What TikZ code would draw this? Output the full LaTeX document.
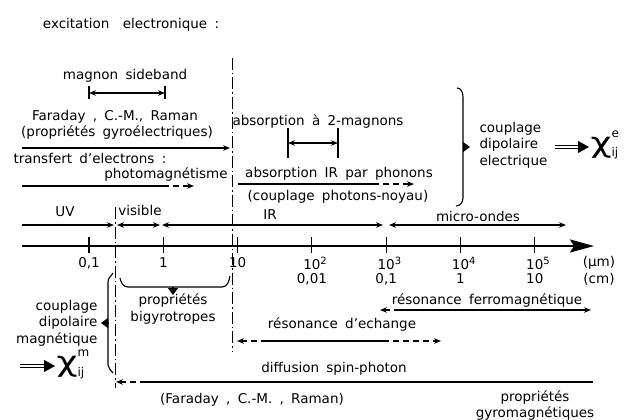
\documentclass[tikz,border=0pt]{standalone}
\usepackage{fontspec}
\setmainfont{DejaVu Sans}[WordSpace=1.7]
\usepackage{tikz}
\usetikzlibrary{arrows.meta,positioning}
\newcommand{\chisus}[1]{\scalebox{1.3}[1]{\fontsize{28}{28}\selectfont χ}\makebox[0pt][l]{\raisebox{15pt}{\fontsize{12}{12}\selectfont #1}}\raisebox{-5pt}{\fontsize{12}{12}\selectfont ij}}

\begin{document}
\begin{tikzpicture}[x=1pt,y=-1pt,>={Stealth[length=7pt,width=5.5pt]},line width=1.1pt,
  every node/.style={font=\fontsize{13.5}{16.5}\selectfont,inner sep=1pt}]
\tikzstyle{dashdot}=[line width=0.9pt,dash pattern=on 12pt off 3pt on 1.5pt off 3pt]
\tikzstyle{dsh}=[dash pattern=on 6pt off 4pt]
\tikzstyle{axe}=[line width=2pt,-{Stealth[length=24pt,width=13pt,inset=4pt]}]
\tikzstyle{dbl}=[line width=1pt,double,double distance=2.4pt,-{Triangle[length=11pt,width=12pt]}]
\tikzstyle{pointer}=[-{Triangle[length=7pt,width=10pt]}]
\useasboundingbox (0,0) rectangle (627,420);

\node (exc) at (131,25) {excitation\quad electronique :};

\node (msb) at (125,76) {magnon sideband};
\coordinate (ms1) at (89,93);
\coordinate (ms2) at (165,93);
\draw (ms1) ++(0,-7) -- ++(0,13) (ms2) ++(0,-7) -- ++(0,13);
\path (ms1) edge[<->] (ms2);

\node (far) at (115,117) {Faraday , C.-M., Raman};
\node (gyro) at (117,133) {(propriétés gyroélectriques)};
\coordinate (f0) at (22,148);
\coordinate (f1) at (230,148);
\path (f0) edge[->] (f1);

\node[anchor=west] (trf) at (12,158) {transfert d’electrons :};
\node (pm) at (166,175) {photomagnétisme};
\coordinate (p0) at (22,186);
\coordinate (p1) at (163,186);
\coordinate (p2) at (194,186);
\path (p0) edge (p1)
      (p1) edge[->,dsh] (p2);

\node (a2m) at (318,122) {absorption à 2-magnons};
\coordinate (am1) at (288,143);
\coordinate (am2) at (338,143);
\draw (am1) ++(0,-15) -- ++(0,30) (am2) ++(0,-15) -- ++(0,30);
\path (am1) edge[<->] (am2);

\node (phn) at (339,174) {absorption IR par phonons};
\node (cpn) at (338,197) {(couplage photons-noyau)};
\coordinate (h0) at (238,184);
\coordinate (h1) at (373,184);
\coordinate (h2) at (414,184);
\path (h0) edge (h1)
      (h1) edge[->,dsh] (h2);

\draw (457,88) to[out=0,in=90] (463,97) -- (463,198) to[out=-90,in=0] (456,206);
\draw[pointer] (463,147) -- (470,147);
\node[align=left,anchor=west] (cde) at (478,145) {couplage\\dipolaire\\electrique};
\coordinate (e0) at (555,147);
\coordinate (e1) at (589,147);
\path (e0) edge[dbl] (e1);
\node[anchor=base west,inner sep=0pt] (chie) at (590,152) {\chisus{e}};

\coordinate (d1) at (232,58);
\coordinate (d2) at (232,352);
\coordinate (v1) at (115,207);
\coordinate (v2) at (115,388);
\draw[dashdot] (d1) -- (d2);
\draw[dashdot] (v1) -- (v2);

\node (uv) at (65,212) {UV};
\node (vis) at (140,210) {visible};
\node (ir) at (270,215) {IR};
\node (mo) at (478,216) {micro-ondes};
\coordinate (b0) at (22,225);
\coordinate (b1) at (114,225);
\coordinate (b2) at (117,225);
\coordinate (b3) at (160,225);
\coordinate (b4) at (162,225);
\coordinate (b5) at (383,225);
\coordinate (b6) at (389,225);
\coordinate (b7) at (566,225);
\path (b0) edge[->] (b1)
      (b2) edge[<->] (b3)
      (b4) edge[<->] (b5)
      (b6) edge[<->] (b7);

\coordinate (ax0) at (22,246);
\coordinate (ax1) at (594,246);
\draw[axe] (ax0) -- (ax1);
\foreach \k/\um/\cm in {0/{0,1}/{},1/1/{},2/10/{},3/2/{0,01},4/3/{0,1},5/4/1,6/5/10} {
  \draw ({89+74.3*\k},237) -- ++(0,16);
  \ifnum\k<3
    \node (um\k) at ({89+74.3*\k},263) {\um};
  \else
    \node (um\k) at ({89+74.3*\k},263) {10\rlap{\raisebox{5pt}{\fontsize{10}{10}\selectfont\um}}};
  \fi
  \node (cm\k) at ({89+74.3*\k},279) {\cm};
}
\node (unum) at (599,263) {(µm)};
\node (uncm) at (599,279) {(cm)};

\draw (120,278) to[out=-80,in=180] (128,287) -- (222,287) to[out=0,in=-100] (230,276);
\draw[pointer] (173,287) -- (173,295);
\node[align=center] (bgy) at (173,309) {propriétés\\bigyrotropes};

\draw (113,273) to[out=-120,in=90] (108,282) -- (108,365) to[out=-90,in=120] (113,373);
\draw[pointer] (108,323) -- (101,323);
\node[align=right,anchor=east] (cdm) at (99,323) {couplage\\dipolaire\\magnétique};
\coordinate (g0) at (20,366);
\coordinate (g1) at (55,366);
\path (g0) edge[dbl] (g1);
\node[anchor=base west,inner sep=0pt] (chim) at (56,371) {\chisus{m}};

\node (rf) at (487,301) {résonance ferromagnétique};
\coordinate (r0) at (380,310);
\coordinate (r1) at (397,310);
\coordinate (r2) at (591,310);
\path (r0) edge[<-,dsh] (r1)
      (r1) edge[->] (r2);

\node (rec) at (342,325) {résonance d’echange};
\coordinate (x0) at (237,341);
\coordinate (x1) at (267,341);
\coordinate (x2) at (383,341);
\coordinate (x3) at (441,341);
\path (x0) edge[<-,dsh] (x1)
      (x1) edge (x2)
      (x2) edge[->,dsh] (x3);

\node (dsp) at (334,369) {diffusion spin-photon};
\coordinate (s0) at (116,382);
\coordinate (s1) at (143,382);
\coordinate (s2) at (593,382);
\path (s0) edge[<-,dsh] (s1)
      (s1) edge (s2);
\node (fcr) at (252,400) {(Faraday , C.-M. , Raman)};
\node[align=center,font=\fontsize{13.5}{16}\selectfont] (pgm) at (535,406) {propriétés\\gyromagnétiques};
\end{tikzpicture}
\end{document}
